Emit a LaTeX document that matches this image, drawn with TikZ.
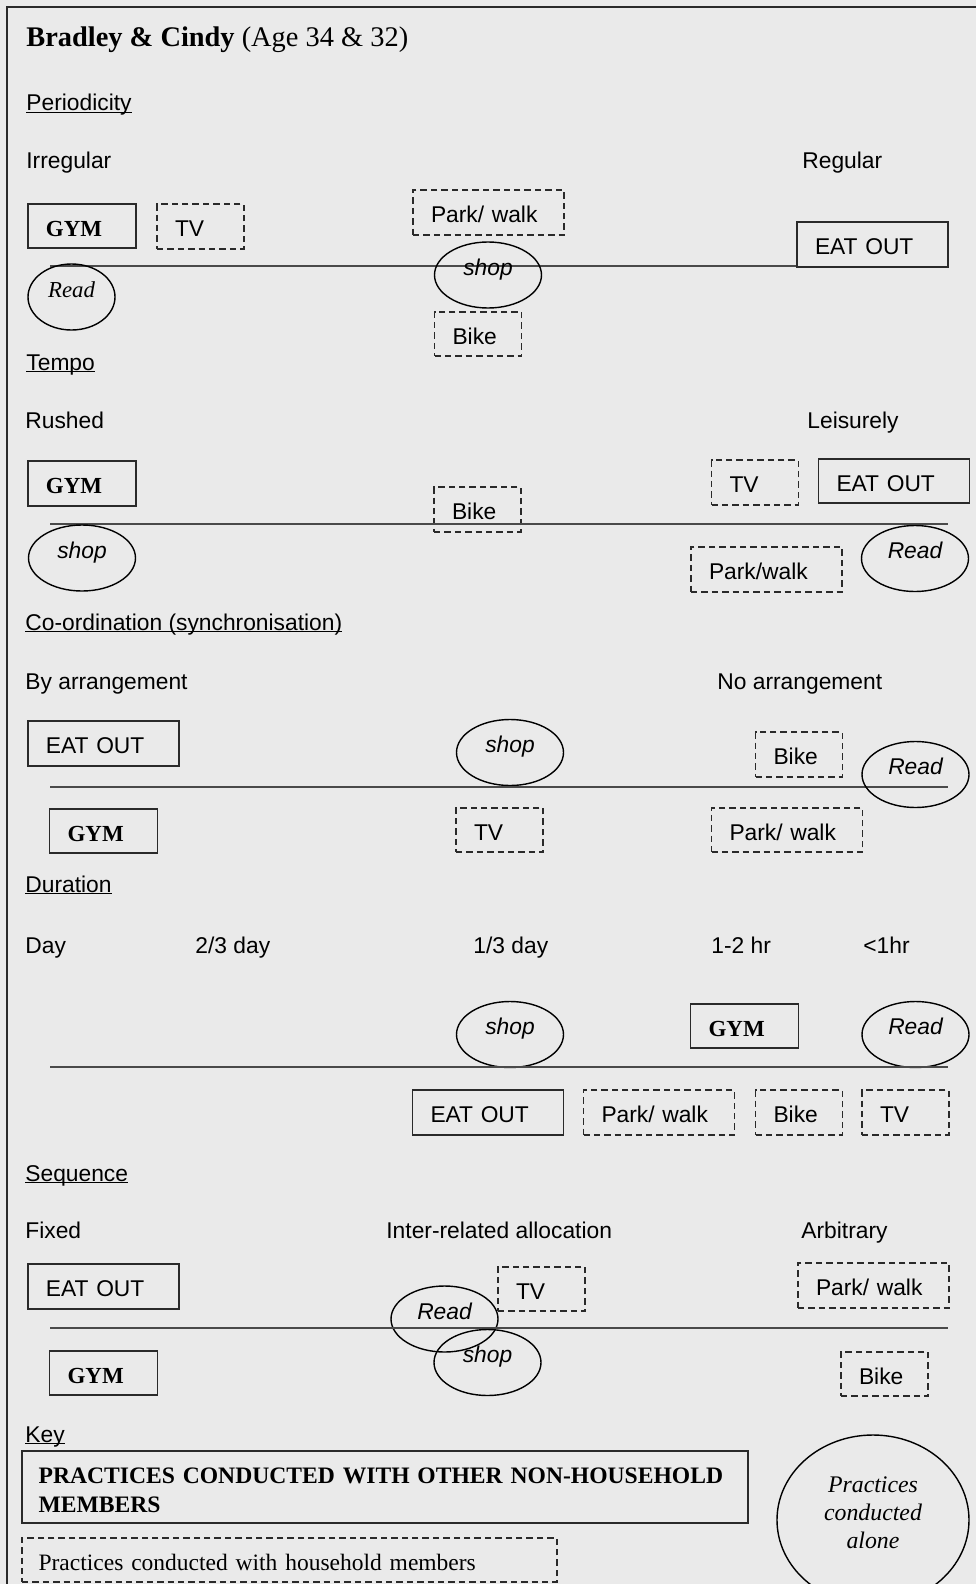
\documentclass[tikz,border=0pt]{standalone}
\usepackage{fontspec}
\setmainfont{Liberation Sans}
\newfontfamily\timesfont{Liberation Serif}
\usepackage{tikz}
\usetikzlibrary{shapes.geometric}
\definecolor{paper}{HTML}{EAEAEA}
\definecolor{ink}{HTML}{2A2A2A}
\newcommand{\undertext}[1]{\setbox0=\hbox{#1}\rlap{\rule[-1.2pt]{\wd0}{0.7pt}}\box0}

\begin{document}
\begin{tikzpicture}[
        x=0.5pt, y=-0.5pt,
        every node/.style={inner sep=0pt, font=\fontsize{11.4}{13.7}\selectfont},
        lbl/.style={anchor=base west},
        axis/.style={draw=ink!85, line width=1pt},
        boxtext/.style={inner xsep=9pt, inner ysep=0pt, minimum height=22.25pt, align=left, text height=10.3pt, text depth=0pt},
        withline/.style={draw=ink, line width=0.85pt},
        homeline/.style={draw=ink, line width=0.8pt, dash pattern=on 3.2pt off 2pt},
        others/.style={boxtext, withline},
        household/.style={boxtext, homeline},
        alone/.style={ellipse, draw=black, line width=0.7pt, minimum width=53.5pt, minimum height=33pt, text height=7pt, text depth=7pt, font=\fontsize{11.4}{13.7}\selectfont\itshape},
        longbox/.style={text width=57.5pt},
        midbox/.style={text width=36pt},
        shortbox/.style={text width=25.5pt},
        serifb/.style={font=\timesfont\fontsize{11.5}{13.8}\selectfont\bfseries}
    ]
    \useasboundingbox (0,0) rectangle (976,1584);
    \clip (0,0) rectangle (976,1584);
    \fill[paper] (0,0) rectangle (976,1584);
    \draw[ink, line width=1pt] (6.7,1584) -- (6.7,7.5) -- (976,7.5);

    % --- Header ---
    \node[lbl, font=\timesfont\fontsize{14.2}{17}\selectfont] (title) at (26, 47) {\textbf{Bradley \& Cindy} (Age 34 \& 32)};

    % --- Periodicity ---
    \node[lbl] (perhead) at (26, 111) {\undertext{Periodicity}};
    \node[lbl] (irreg) at (26, 169) {Irregular};
    \node[lbl] (reg) at (802, 169) {Regular};
    \node[others, midbox, serifb] (pergym) at (82, 226) {GYM};
    \node[household, shortbox] (pertv) at (200.5, 226.5) {TV};
    \node[household, longbox] (perpark) at (488.5, 212.5) {Park/ walk};
    \node[others, longbox] (pereat) at (872.5, 244.5) {EAT OUT};
    \coordinate (perleft) at (50, 266);
    \draw[axis] (perleft) -- (perleft -| pereat.west);
    \node[alone, minimum width=43.5pt, font=\timesfont\fontsize{11.4}{13.7}\selectfont\itshape] (perread) at (71.5, 297) {Read};
    \node[alone] (pershop) at (488, 275) {shop};
    \node[household, shortbox] (perbike) at (478, 334) {Bike};

    % --- Tempo ---
    \node[lbl] (temhead) at (26, 370) {\undertext{Tempo}};
    \node[lbl] (rushed) at (25, 428) {Rushed};
    \node[lbl] (leisure) at (807, 428) {Leisurely};
    \node[others, midbox, serifb] (temgym) at (82, 483.5) {GYM};
    \node[household, shortbox] (tembike) at (477.5, 509.5) {Bike};
    \node[household, shortbox] (temtv) at (755, 482.5) {TV};
    \node[others, longbox] (temeat) at (894, 481) {EAT OUT};
    \coordinate (temleft) at (50, 524);
    \coordinate (temright) at (948, 524);
    \draw[axis] (temleft) -- (temright);
    \node[alone] (temshop) at (82, 558) {shop};
    \node[household, longbox] (tempark) at (766.5, 569.5) {Park/walk};
    \node[alone] (temread) at (915, 558.5) {Read};

    % --- Co-ordination ---
    \node[lbl] (coohead) at (25, 630) {\undertext{Co-ordination (synchronisation)}};
    \node[lbl] (byarr) at (25, 689) {By arrangement};
    \node[lbl] (noarr) at (717, 689) {No arrangement};
    \node[others, longbox] (cooeat) at (103.5, 743.5) {EAT OUT};
    \node[alone] (cooshop) at (510, 752.5) {shop};
    \node[household, shortbox] (coobike) at (799, 754.5) {Bike};
    \coordinate (cooleft) at (50, 787);
    \coordinate (cooright) at (948, 787);
    \draw[axis] (cooleft) -- (cooright);
    \node[alone] (cooread) at (915.5, 774.5) {Read};
    \node[others, midbox, serifb] (coogym) at (103.5, 831) {GYM};
    \node[household, shortbox] (cootv) at (499.5, 830) {TV};
    \node[household, longbox] (coopark) at (787, 830) {Park/ walk};

    % --- Duration ---
    \node[lbl] (durhead) at (25, 892) {\undertext{Duration}};
    \node[lbl] (day) at (25, 953) {Day};
    \node[lbl] (twothird) at (195, 953) {2/3 day};
    \node[lbl] (onethird) at (473, 953) {1/3 day};
    \node[lbl] (hours) at (711, 953) {1-2 hr};
    \node[lbl] (lesshour) at (863, 953) {<1hr};
    \node[alone] (durshop) at (510, 1034.5) {shop};
    \node[others, midbox, serifb] (durgym) at (744.5, 1026) {GYM};
    \node[alone] (durread) at (915.5, 1034.5) {Read};
    \coordinate (durleft) at (50, 1067);
    \coordinate (durright) at (948, 1067);
    \draw[axis] (durleft) -- (durright);
    \node[others, longbox] (dureat) at (488, 1112.5) {EAT OUT};
    \node[household, longbox] (durpark) at (659, 1112.5) {Park/ walk};
    \node[household, shortbox] (durbike) at (799, 1112.5) {Bike};
    \node[household, shortbox] (durtv) at (905.5, 1112.5) {TV};

    % --- Sequence ---
    \node[lbl] (seqhead) at (25, 1181) {\undertext{Sequence}};
    \node[lbl] (fixed) at (25, 1238) {Fixed};
    \node[lbl] (interrel) at (386, 1238) {Inter-related allocation};
    \node[lbl] (arbit) at (801, 1238) {Arbitrary};
    \node[others, longbox] (seqeat) at (103.5, 1286.5) {EAT OUT};
    \node[household, shortbox] (seqtv) at (541.5, 1289) {TV};
    \node[household, longbox] (seqpark) at (873.5, 1285.5) {Park/ walk};
    \node[alone] (seqread) at (444.5, 1319) {Read};
    \coordinate (seqleft) at (50, 1328);
    \coordinate (seqright) at (948, 1328);
    \draw[axis] (seqleft) -- (seqright);
    \node[alone] (seqshop) at (487.5, 1362.5) {shop};
    \node[others, midbox, serifb] (seqgym) at (103.5, 1373) {GYM};
    \node[household, shortbox] (seqbike) at (884.5, 1374) {Bike};

    % --- Key ---
    \node[lbl] (keyhead) at (25, 1442) {\undertext{Key}};
    \node[withline, inner xsep=8.3pt, text width=346.4pt, minimum height=36pt, align=left, font=\timesfont\fontsize{11.8}{14.5}\selectfont\bfseries] (keyothers) at (385, 1487) {\raisebox{-2.35pt}[\height][\depth]{\begin{tabular}{@{}l@{}}PRACTICES CONDUCTED WITH OTHER NON-HOUSEHOLD\\MEMBERS\end{tabular}}};
    \node[household, text width=250.9pt, inner xsep=8.3pt, minimum height=22pt, font=\timesfont\fontsize{11.75}{14}\selectfont] (keyhome) at (289.5, 1560) {Practices conducted with household members};
    \node[ellipse, draw=black, line width=0.7pt, minimum width=96pt, minimum height=85pt, font=\timesfont\fontsize{11.9}{14}\selectfont\itshape] (keyalone) at (873, 1520) {\raisebox{2.8pt}[\height][\depth]{\begin{tabular}{@{}c@{}}Practices\\conducted\\alone\end{tabular}}};
\end{tikzpicture}
\end{document}
